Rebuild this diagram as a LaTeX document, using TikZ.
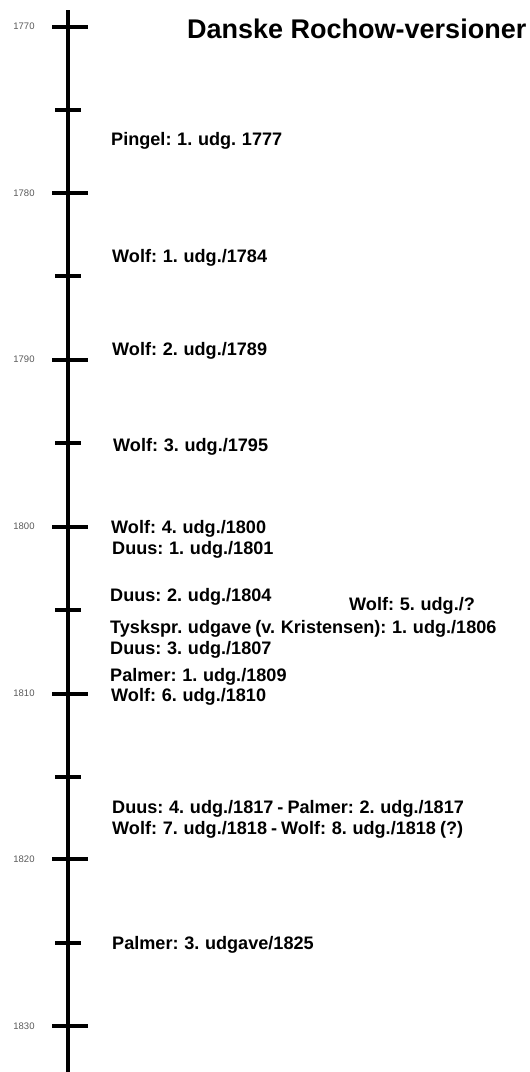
\documentclass[tikz,border=0pt]{standalone}
\usepackage{fontspec}
\setmainfont{Liberation Sans}[WordSpace=0.8]
\begin{document}
\begin{tikzpicture}[x=1pt,y=-1pt,
  entry/.style={anchor=base west,inner sep=0pt,font=\bfseries\fontsize{18.1}{20}\selectfont},
  titletext/.style={anchor=base west,inner sep=0pt,font=\bfseries\fontsize{27}{30}\selectfont},
  yearlabel/.style={anchor=center,inner sep=0pt,text=black!65,font=\fontsize{9.5}{10}\selectfont},
  axisline/.style={line width=4pt},
  majortick/.style={line width=4pt},
  minortick/.style={line width=4pt}]
\useasboundingbox (0,0) rectangle (530,1072);
\coordinate (top) at (68,10);
\coordinate (bottom) at (68,1072);
\draw[axisline] (top) -- (bottom);
% major ticks and labels
\foreach \yr/\yy in {1770/26.5,1780/193,1790/359.5,1800/526.5,1810/693.5,1820/859,1830/1026}{
  \draw[majortick] (52,\yy) -- (88,\yy);
  \node[yearlabel] (y\yr) at (24,\yy) {\yr};
}
% minor ticks
\foreach \yy in {110,276,443,610,777,943}{
  \draw[minortick] (55,\yy) -- (81,\yy);
}
\node[titletext] (title) at (187,38) {\fontspec{Liberation Sans}[WordSpace=1]\bfseries Danske Rochow-versioner};
\node[entry] (p1) at (111,145.5) {Pingel: 1. udg. 1777};
\node[entry] (w1) at (112,262.5) {Wolf: 1. udg./1784};
\node[entry] (w2) at (112,355.5) {Wolf: 2. udg./1789};
\node[entry] (w3) at (113,451.5) {Wolf: 3. udg./1795};
\node[entry] (w4) at (111,533.5) {Wolf: 4. udg./1800};
\node[entry] (d1) at (112,554.5) {Duus: 1. udg./1801};
\node[entry] (d2) at (110,601.5) {Duus: 2. udg./1804};
\node[entry] (w5) at (349,610.5) {Wolf: 5. udg./?};
\node[entry] (t1) at (110,633.5) {Tyskspr. udgave (v. Kristensen): 1. udg./1806};
\node[entry] (d3) at (110,654.5) {Duus: 3. udg./1807};
\node[entry] (pa1) at (110,681.5) {Palmer: 1. udg./1809};
\node[entry] (w6) at (111,701.5) {Wolf: 6. udg./1810};
\node[entry] (d4) at (112,813.5) {Duus: 4. udg./1817 - Palmer: 2. udg./1817};
\node[entry] (w7) at (112,834.5) {Wolf: 7. udg./1818 - Wolf: 8. udg./1818 (?)};
\node[entry] (pa3) at (112,949.5) {Palmer: 3. udgave/1825};
\end{tikzpicture}
\end{document}
